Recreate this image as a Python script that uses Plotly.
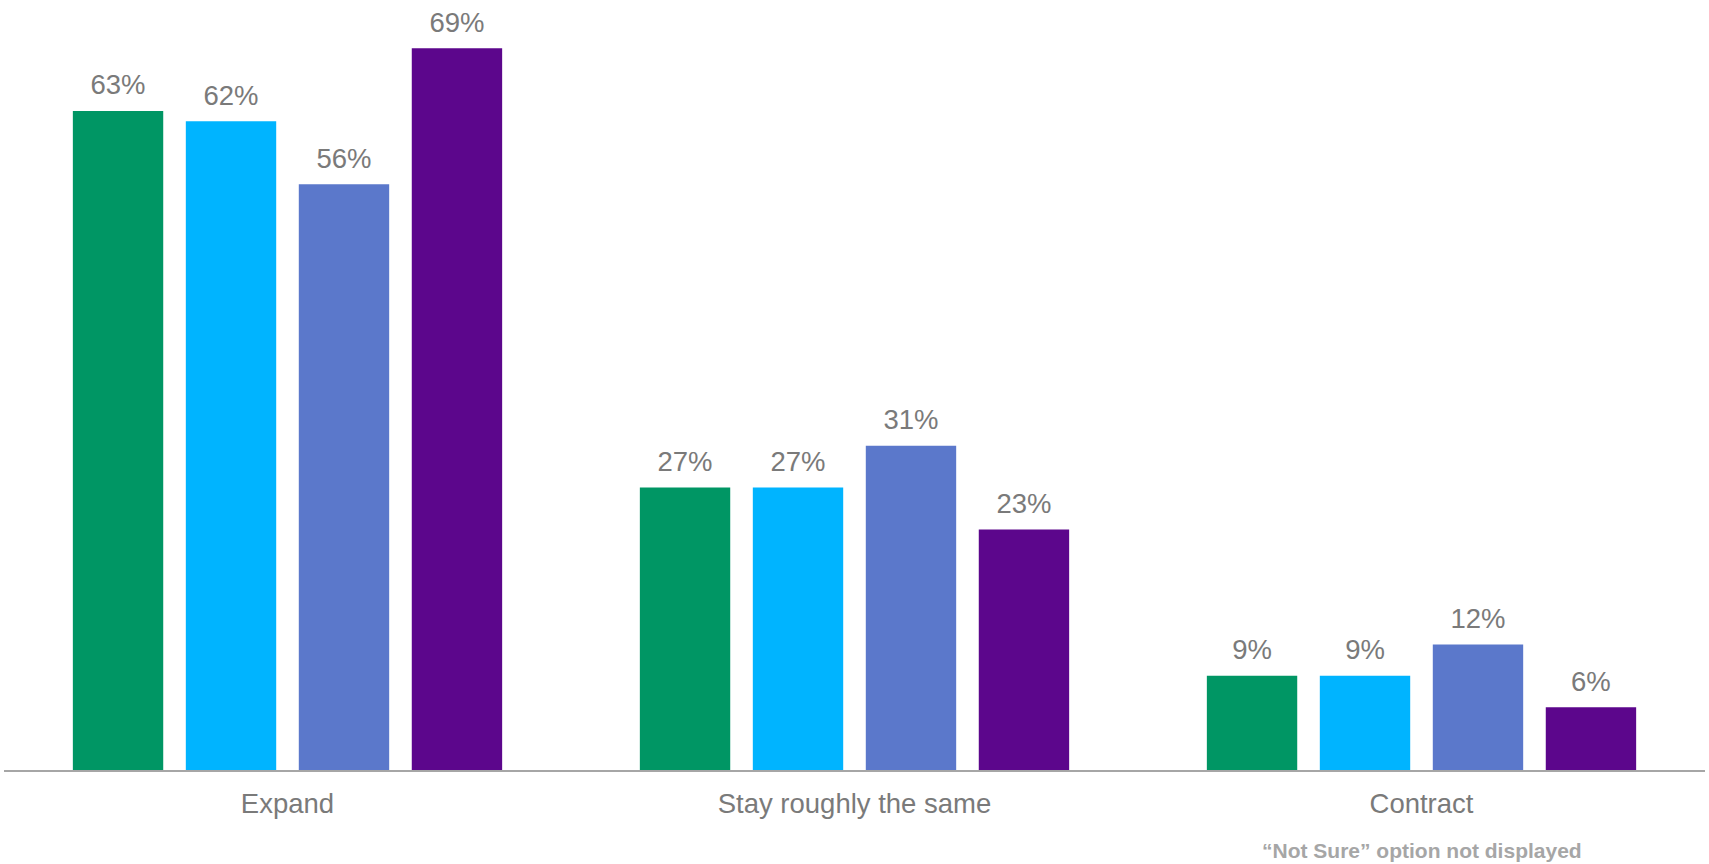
import plotly.graph_objects as go

categories = ["Expand", "Stay roughly the same", "Contract"]
series_names = ["Series 1", "Series 2", "Series 3", "Series 4"]
series_values = [
    [63, 27, 9],
    [62, 27, 9],
    [56, 31, 12],
    [69, 23, 6],
]
series_colors = ["#009664", "#00B4FF", "#5B78CB", "#5C068C"]
footnote = "\u201cNot Sure\u201d option not displayed"

FONT = "Liberation Sans, Arial, sans-serif"
GRAY = "#7A7A7A"

fig = go.Figure()
for name, vals, col in zip(series_names, series_values, series_colors):
    fig.add_trace(go.Bar(
        name=name,
        x=categories,
        y=vals,
        offsetgroup=name,
        marker=dict(color=col, line=dict(width=0)),
        hoverinfo="skip",
    ))
for name, vals in zip(series_names, series_values):
    fig.add_trace(go.Scatter(
        name=name + " labels",
        x=categories,
        y=vals,
        offsetgroup=name,
        mode="markers+text",
        marker=dict(size=14, opacity=0),
        text=[f"{v}%" for v in vals],
        textposition="top center",
        textfont=dict(family=FONT, size=27.5, color=GRAY),
        cliponaxis=False,
        hoverinfo="skip",
    ))

fig.add_annotation(
    text=footnote,
    xref="x", x=categories[-1],
    yref="paper", y=-0.104, yanchor="middle",
    showarrow=False,
    font=dict(family=FONT, size=21, color="#A6A6A6", weight="bold"),
)

fig.update_layout(
    width=1709, height=864,
    margin=dict(l=4, r=4, t=0, b=94),
    barmode="group",
    bargap=0.203,
    bargroupgap=0.2,
    scattermode="group",
    scattergap=0.203,
    showlegend=False,
    plot_bgcolor="white",
    paper_bgcolor="white",
    xaxis=dict(
        showline=True, linecolor="#A6A6A6", linewidth=2,
        ticks="", showgrid=False, ticklabelstandoff=8,
        tickfont=dict(family=FONT, size=27.5, color=GRAY),
    ),
    yaxis=dict(
        range=[0, 73.6], visible=False, showgrid=False, zeroline=False,
    ),
)

fig.write_html(
    "out.html",
    config={"displayModeBar": False},
    post_script="document.body.style.margin='0';document.body.style.overflow='hidden';",
)
